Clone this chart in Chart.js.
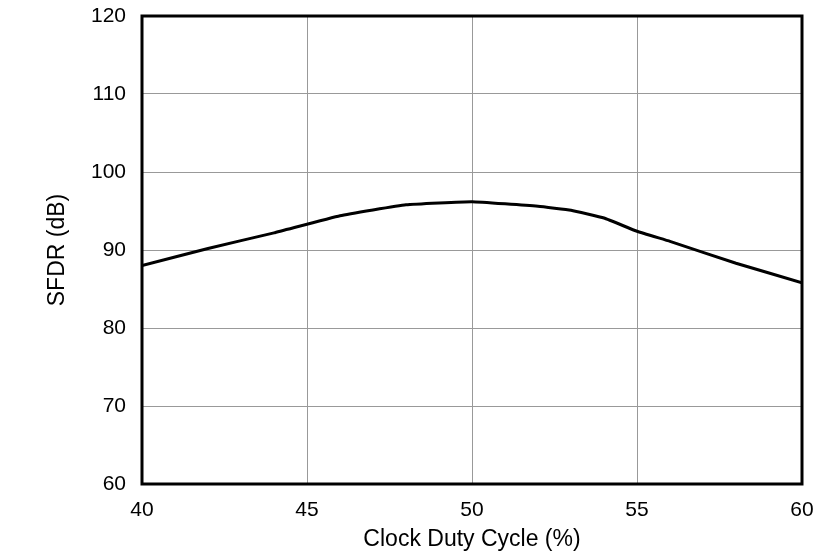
<!DOCTYPE html>
<html>
<head>
<meta charset="utf-8">
<script src="https://cdn.jsdelivr.net/npm/chart.js@4/dist/chart.umd.min.js"></script>
<style>
  html, body { margin: 0; padding: 0; background: #fff; }
  #wrap { width: 839px; height: 559px; }
</style>
</head>
<body>
<div id="wrap"><canvas id="c"></canvas></div>
<script>
// duty cycle (%) vs SFDR (dB)
const dutyCycle = [40, 42, 44, 46, 48, 50, 52, 53, 54, 55, 56, 58, 60];
const sfdr = [88.0, 90.2, 92.2, 94.4, 95.8, 96.2, 95.6, 95.1, 94.1, 92.4, 91.1, 88.3, 85.8];

const xRange = { min: 40, max: 60, step: 5 };
const yRange = { min: 60, max: 120, step: 10 };

// thick black box around the plot area
const frame = {
  id: 'frame',
  afterDraw(chart) {
    const { ctx, chartArea: a } = chart;
    ctx.save();
    ctx.strokeStyle = '#000';
    ctx.lineWidth = 3;
    ctx.strokeRect(a.left, a.top, a.right - a.left, a.bottom - a.top);
    ctx.restore();
  }
};

const tickFont = { family: 'Liberation Sans, Arial, sans-serif', size: 21 };
const titleFont = { family: 'Liberation Sans, Arial, sans-serif', size: 23 };

new Chart(document.getElementById('c'), {
  type: 'line',
  data: {
    datasets: [{
      data: dutyCycle.map((x, i) => ({ x, y: sfdr[i] })),
      borderColor: '#000',
      borderWidth: 3,
      pointRadius: 0,
      tension: 0.1,
      fill: false
    }]
  },
  options: {
    responsive: true,
    maintainAspectRatio: false,
    animation: false,
    layout: { padding: { top: 16, right: 37, left: 0, bottom: 0 } },
    plugins: { legend: { display: false }, tooltip: { enabled: false } },
    scales: {
      x: {
        type: 'linear',
        min: xRange.min, max: xRange.max,
        ticks: { stepSize: xRange.step, color: '#000', font: tickFont, padding: 14, maxRotation: 0 },
        grid: { color: '#999', lineWidth: 1, drawTicks: false },
        border: { display: false },
        title: { display: true, text: 'Clock Duty Cycle (%)', color: '#000', font: titleFont, padding: { top: 0, bottom: 6 } },
        afterFit(s) { s.height = 75; }
      },
      y: {
        min: yRange.min, max: yRange.max,
        ticks: { stepSize: yRange.step, color: '#000', font: tickFont, padding: 16 },
        grid: { color: '#999', lineWidth: 1, drawTicks: false },
        border: { display: false },
        title: { display: true, text: 'SFDR (dB)', color: '#000', font: titleFont, padding: { top: 44, bottom: 0 } },
        afterFit(s) { s.width = 142; s.paddingTop = 0; s.paddingBottom = 0; }
      }
    }
  },
  plugins: [frame]
});
</script>
</body>
</html>
